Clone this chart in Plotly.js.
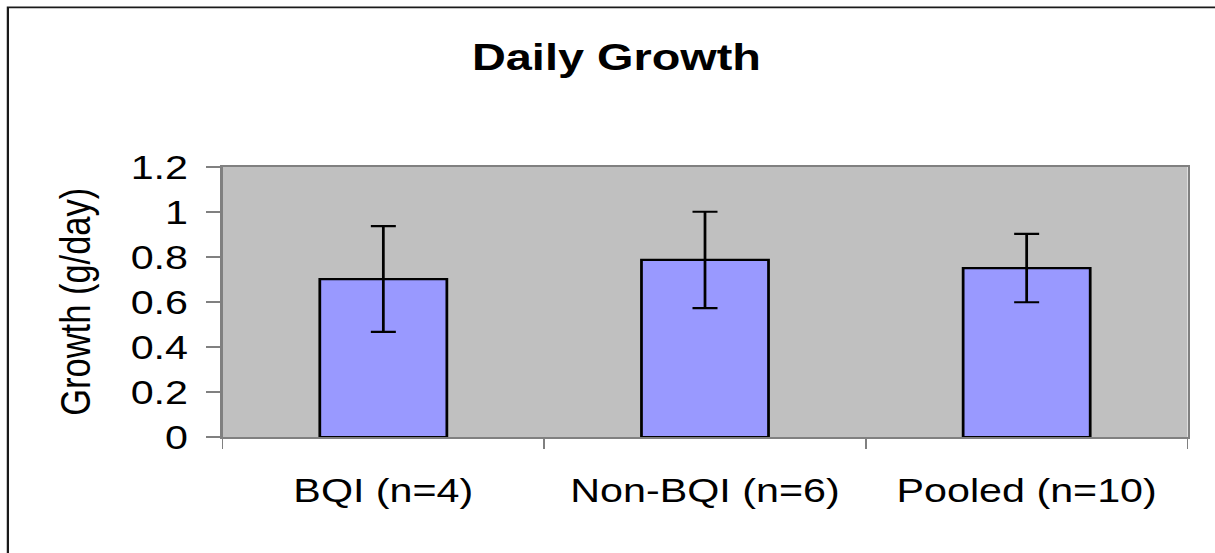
<!DOCTYPE html>
<html>
<head>
<meta charset="utf-8">
<script src="https://cdn.plot.ly/plotly-3.0.1.min.js"></script>
<style>
  html, body { margin: 0; padding: 0; background: #ffffff; overflow: hidden; }
  #chart { width: 972px; height: 553px; transform: scaleX(1.25); transform-origin: 0 0; }
</style>
</head>
<body>
<div id="chart"></div>
<script>
// Data
const categories = ["BQI (n=4)", "Non-BQI (n=6)", "Pooled (n=10)"];
const growth = [0.702, 0.787, 0.751];
const growthError = [0.235, 0.214, 0.152];
const yTickValues = [0, 0.2, 0.4, 0.6, 0.8, 1, 1.2];
const yTickLabels = ["0", "0.2", "0.4", "0.6", "0.8", "1", "1.2"];
const chartTitle = "Daily Growth";
const yAxisTitle = "Growth (g/day)";

const FONT = "'Liberation Sans', Arial, sans-serif";

const trace = {
  type: "bar",
  x: categories,
  y: growth,
  marker: { color: "#9999ff", line: { color: "#000000", width: 2.2 } },
  error_y: {
    type: "data",
    array: growthError,
    visible: true,
    color: "#000000",
    thickness: 2.2,
    width: 10
  },
  hoverinfo: "skip"
};

const layout = {
  width: 972,
  height: 553,
  margin: { l: 178, r: 22.4, t: 167, b: 115.5, pad: 0 },
  paper_bgcolor: "#ffffff",
  plot_bgcolor: "#c0c0c0",
  showlegend: false,
  bargap: 0.605,
  font: { family: FONT, color: "#000000" },
  title: {
    text: "<b>" + chartTitle + "</b>",
    font: { family: FONT, size: 37.5, color: "#000000" },
    xref: "container",
    x: 0.5074,
    xanchor: "center",
    yref: "container",
    y: 0.8975,
    yanchor: "middle"
  },
  xaxis: {
    type: "category",
    showline: true,
    linecolor: "#808080",
    linewidth: 2,
    mirror: true,
    ticks: "outside",
    tickson: "boundaries",
    ticklen: 10,
    tickwidth: 1.5,
    tickcolor: "#808080",
    ticklabelstandoff: 23,
    tickfont: { family: FONT, size: 33, color: "#000000" },
    showgrid: false,
    zeroline: false,
    fixedrange: true
  },
  yaxis: {
    range: [0, 1.2],
    tickmode: "array",
    tickvals: yTickValues,
    ticktext: yTickLabels,
    showline: true,
    linecolor: "#808080",
    linewidth: 2,
    mirror: true,
    ticks: "outside",
    ticklen: 11,
    tickwidth: 1.5,
    tickcolor: "#808080",
    ticklabelstandoff: 8,
    tickfont: { family: FONT, size: 33, color: "#000000" },
    showgrid: false,
    zeroline: false,
    fixedrange: true
  },
  annotations: [{
    text: yAxisTitle,
    xref: "paper",
    yref: "paper",
    x: -0.153,
    y: 0.5,
    xanchor: "center",
    yanchor: "middle",
    textangle: -90,
    showarrow: false,
    font: { family: FONT, size: 34.5, color: "#000000" }
  }],
  shapes: [{
    type: "rect",
    xref: "paper",
    yref: "paper",
    x0: -0.2224,
    x1: 1.3,
    y0: -1,
    y1: 1.5915,
    line: { color: "#1a1a1a", width: 1.8 },
    fillcolor: "rgba(0,0,0,0)",
    layer: "below"
  }]
};

Plotly.newPlot("chart", [trace], layout, { displayModeBar: false, staticPlot: true });
</script>
</body>
</html>
